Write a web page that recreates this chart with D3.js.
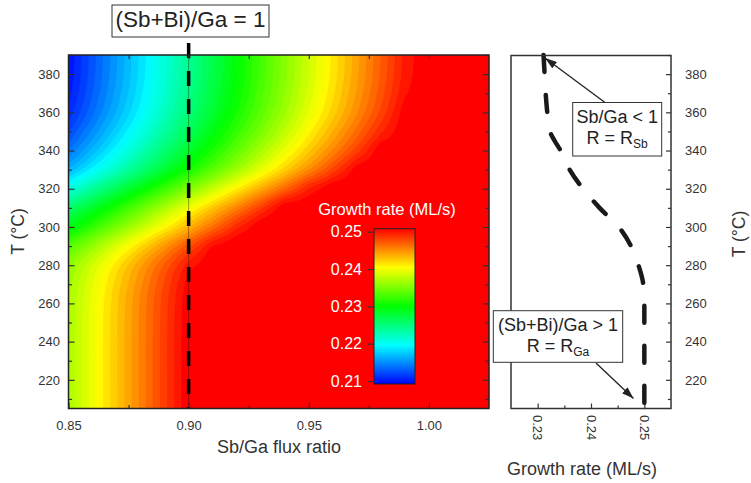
<!DOCTYPE html>
<html><head><meta charset="utf-8">
<script src="https://cdn.jsdelivr.net/npm/d3@7/dist/d3.min.js"></script>
<style>
body{margin:0;background:#fff}
text{font-family:"Liberation Sans",Arial,Helvetica,sans-serif}
</style>
</head><body>
<svg id="c" width="751" height="483"></svg>
<script>
// ---------------- DATA ----------------
// Sb/Ga flux ratio sample columns
const fluxRatios = [0.85,0.86,0.87,0.88,0.89,0.90,0.91,0.92,0.93,0.94,0.95,0.96,0.97,0.98,0.99,1.00,1.01,1.02,1.03];
// Temperature sample rows (°C)
const temperatures = [205,220,240,260,270,280,290,300,310,320,330,340,350,360,370,380,390];
const growthRate = [
 [0.2365,0.2392,0.2419,0.2446,0.2473,0.2500,0.2500,0.2500,0.2500,0.2500,0.2500,0.2500,0.2500,0.2500,0.2500,0.2500,0.2500,0.2500,0.2500],
 [0.2365,0.2392,0.2419,0.2446,0.2473,0.2500,0.2500,0.2500,0.2500,0.2500,0.2500,0.2500,0.2500,0.2500,0.2500,0.2500,0.2500,0.2500,0.2500],
 [0.2365,0.2392,0.2419,0.2446,0.2473,0.2500,0.2500,0.2500,0.2500,0.2500,0.2500,0.2500,0.2500,0.2500,0.2500,0.2500,0.2500,0.2500,0.2500],
 [0.2364,0.2391,0.2418,0.2445,0.2472,0.2499,0.2500,0.2500,0.2500,0.2500,0.2500,0.2500,0.2500,0.2500,0.2500,0.2500,0.2500,0.2500,0.2500],
 [0.2361,0.2388,0.2415,0.2442,0.2469,0.2496,0.2500,0.2500,0.2500,0.2500,0.2500,0.2500,0.2500,0.2500,0.2500,0.2500,0.2500,0.2500,0.2500],
 [0.2353,0.2380,0.2407,0.2434,0.2461,0.2488,0.2500,0.2500,0.2500,0.2500,0.2500,0.2500,0.2500,0.2500,0.2500,0.2500,0.2500,0.2500,0.2500],
 [0.2330,0.2357,0.2384,0.2411,0.2438,0.2465,0.2492,0.2500,0.2500,0.2500,0.2500,0.2500,0.2500,0.2500,0.2500,0.2500,0.2500,0.2500,0.2500],
 [0.2292,0.2319,0.2346,0.2373,0.2400,0.2427,0.2454,0.2481,0.2500,0.2500,0.2500,0.2500,0.2500,0.2500,0.2500,0.2500,0.2500,0.2500,0.2500],
 [0.2257,0.2284,0.2311,0.2338,0.2365,0.2392,0.2419,0.2446,0.2473,0.2500,0.2500,0.2500,0.2500,0.2500,0.2500,0.2500,0.2500,0.2500,0.2500],
 [0.2214,0.2241,0.2268,0.2295,0.2322,0.2349,0.2376,0.2403,0.2430,0.2457,0.2484,0.2500,0.2500,0.2500,0.2500,0.2500,0.2500,0.2500,0.2500],
 [0.2173,0.2200,0.2227,0.2254,0.2281,0.2308,0.2335,0.2362,0.2389,0.2416,0.2443,0.2470,0.2497,0.2500,0.2500,0.2500,0.2500,0.2500,0.2500],
 [0.2148,0.2175,0.2202,0.2229,0.2256,0.2283,0.2310,0.2337,0.2364,0.2391,0.2418,0.2445,0.2472,0.2499,0.2500,0.2500,0.2500,0.2500,0.2500],
 [0.2131,0.2158,0.2185,0.2212,0.2239,0.2266,0.2293,0.2320,0.2347,0.2374,0.2401,0.2428,0.2455,0.2482,0.2500,0.2500,0.2500,0.2500,0.2500],
 [0.2119,0.2146,0.2173,0.2200,0.2227,0.2254,0.2281,0.2308,0.2335,0.2362,0.2389,0.2416,0.2443,0.2470,0.2497,0.2500,0.2500,0.2500,0.2500],
 [0.2113,0.2140,0.2167,0.2194,0.2221,0.2248,0.2275,0.2302,0.2329,0.2356,0.2383,0.2410,0.2437,0.2464,0.2491,0.2500,0.2500,0.2500,0.2500],
 [0.2110,0.2137,0.2164,0.2191,0.2218,0.2245,0.2272,0.2299,0.2326,0.2353,0.2380,0.2407,0.2434,0.2461,0.2488,0.2500,0.2500,0.2500,0.2500],
 [0.2109,0.2136,0.2163,0.2190,0.2217,0.2244,0.2271,0.2298,0.2325,0.2352,0.2379,0.2406,0.2433,0.2460,0.2487,0.2500,0.2500,0.2500,0.2500]
];
// Right panel: growth rate along (Sb+Bi)/Ga = 1 vs temperature
const profileT = [390,380,370,360,350,345,340,330,320,310,300,290,280,270,260,240,220,205];
const profileR = [0.2311,0.2313,0.2315,0.2318,0.2323,0.2332,0.2343,0.2360,0.2385,0.2416,0.2452,0.2475,0.2489,0.2498,0.2500,0.2500,0.2500,0.2500];
// Ticks
const xTicks = [0.85,0.90,0.95,1.00];
const xMinor = [0.875,0.925,0.975];
const tTicks = [220,240,260,280,300,320,340,360,380];
const tMinor = [210,230,250,270,290,310,330,350,370,390];
const rTicks = [0.23,0.24,0.25];
const rMinor = [0.235,0.245];
const cbTicks = [0.21,0.22,0.23,0.24,0.25];
const stoichRatio = 0.90;

// ---------------- SCALES ----------------
const svg = d3.select("#c");
const x = d3.scaleLinear().domain([0.85,1.025]).range([68.5,489]);
const y = d3.scaleLinear().domain([205,390]).range([408.5,55]);
const rx = d3.scaleLinear().domain([0.225,0.255]).range([511,671]);
const jet = d3.scaleLinear().domain([0,0.25,0.5,0.75,1])
  .range(["#0000ff","#00ffff","#00ff00","#ffff00","#ff0000"]);
const nLevels = 50, zMin = 0.21, zMax = 0.25;
const step = (zMax - zMin)/nLevels;
const levels = d3.range(nLevels).map(k => zMin + k*step);

const defs = svg.append("defs");
defs.append("clipPath").attr("id","plotclip").append("rect")
  .attr("x",x.range()[0]).attr("y",y.range()[1])
  .attr("width",x.range()[1]-x.range()[0]).attr("height",y.range()[0]-y.range()[1]);

// field sampler: linear in flux ratio, Catmull-Rom (smooth) in temperature
function rowAt(ri, r){
  const nc = fluxRatios.length;
  const ci = Math.max(0, Math.min(nc-2, d3.bisectRight(fluxRatios, r)-1));
  const tx = Math.max(0, Math.min(1, (r - fluxRatios[ci])/(fluxRatios[ci+1]-fluxRatios[ci])));
  return growthRate[ri][ci]*(1-tx) + growthRate[ri][ci+1]*tx;
}
function field(r,T){
  const nr = temperatures.length;
  const ri = Math.max(0, Math.min(nr-2, d3.bisectRight(temperatures, T)-1));
  const t0 = temperatures[ri], t1 = temperatures[ri+1];
  const s = Math.max(0, Math.min(1, (T - t0)/(t1 - t0)));
  const p1 = rowAt(ri, r), p2 = rowAt(ri+1, r);
  const h = t1 - t0;
  const m1 = ri > 0 ? (p2 - rowAt(ri-1, r))/(t1 - temperatures[ri-1])*h : (p2 - p1);
  const m2 = ri+2 < nr ? (rowAt(ri+2, r) - p1)/(temperatures[ri+2] - t0)*h : (p2 - p1);
  const s2 = s*s, s3 = s2*s;
  const v = (2*s3-3*s2+1)*p1 + (s3-2*s2+s)*m1 + (-2*s3+3*s2)*p2 + (s3-s2)*m2;
  return Math.min(0.25, v);
}

const nx = 210, ny = 177;
const x0 = x.range()[0], y0 = y.range()[1];
const cw = (x.range()[1]-x0)/nx, ch = (y.range()[0]-y0)/ny;
const vals = new Array(nx*ny);
for (let j=0;j<ny;j++) for (let i=0;i<nx;i++){
  vals[j*nx+i] = field(x.invert(x0+(i+0.5)*cw), y.invert(y0+(j+0.5)*ch));
}
const contours = d3.contours().size([nx,ny]).thresholds(levels)(vals);
const proj = d3.geoTransform({point:function(px,py){ this.stream.point(x0+px*cw, y0+py*ch); }});
const gpath = d3.geoPath(proj);

svg.append("g").attr("clip-path","url(#plotclip)")
  .selectAll("path").data(contours).join("path")
  .attr("d", gpath)
  .attr("fill", (d,i) => jet(i/(nLevels-1)))
  .attr("stroke", (d,i) => jet(i/(nLevels-1)))
  .attr("stroke-width", 0.3);

// ---------------- COLORBAR ----------------
const cb = d3.scaleLinear().domain([0.21,0.25]).range([381,231.7]);
const grad = defs.append("linearGradient").attr("id","cbgrad")
  .attr("x1",0).attr("y1",1).attr("x2",0).attr("y2",0);
d3.range(0,1.0001,0.05).forEach(t => grad.append("stop").attr("offset",t).attr("stop-color",jet(t)));
svg.append("rect").attr("x",374).attr("y",cb(0.2508)).attr("width",41)
  .attr("height",cb(0.2092)-cb(0.2508))
  .attr("fill","url(#cbgrad)").attr("stroke","#222").attr("stroke-width",1);
const cbAxis = svg.append("g").attr("transform","translate(374,0)")
  .call(d3.axisLeft(cb).tickValues(cbTicks).tickSize(6).tickPadding(6).tickFormat(d3.format(".2f")));
cbAxis.select(".domain").remove();
cbAxis.selectAll("line").attr("stroke","#333").attr("stroke-width",1.2);
cbAxis.selectAll("text").attr("fill","#fff").attr("font-size",16).style("font-family","'Liberation Sans',Arial,sans-serif");
svg.append("text").attr("x",387).attr("y",215).attr("text-anchor","middle")
  .attr("fill","#fff").attr("font-size",16.5).text("Growth rate (ML/s)");

// ---------------- DASHED LINE ----------------
svg.append("line").attr("x1",x(stoichRatio)).attr("x2",x(stoichRatio))
  .attr("y1",y.range()[1]).attr("y2",y.range()[0])
  .attr("stroke","#000").attr("stroke-opacity",0.35).attr("stroke-width",1);
svg.append("line").attr("x1",x(stoichRatio)).attr("x2",x(stoichRatio))
  .attr("y1",43).attr("y2",y.range()[0])
  .attr("stroke","#000").attr("stroke-width",3.5).attr("stroke-dasharray","15,13");

// ---------------- MAIN AXES ----------------
const tickCol = "#333";
function styleAxis(g, fs){
  g.select(".domain").remove();
  g.selectAll("line").attr("stroke",tickCol).attr("stroke-width",1.2);
  g.selectAll("text").attr("fill","#333").attr("font-size",fs||13).style("font-family","'Liberation Sans',Arial,sans-serif");
}
const yB = y.range()[0], yT = y.range()[1], xL = x.range()[0], xR = x.range()[1];
styleAxis(svg.append("g").attr("transform",`translate(0,${yB})`)
  .call(d3.axisBottom(x).tickValues(xTicks).tickSize(-6).tickPadding(12.3).tickFormat(d3.format(".2f"))));
styleAxis(svg.append("g").attr("transform",`translate(0,${yB})`)
  .call(d3.axisBottom(x).tickValues(xMinor).tickSize(-3.5).tickFormat("")));
styleAxis(svg.append("g").attr("transform",`translate(0,${yT})`)
  .call(d3.axisTop(x).tickValues(xTicks.concat(xMinor)).tickSize(-4).tickFormat("")));
styleAxis(svg.append("g").attr("transform",`translate(${xL},0)`)
  .call(d3.axisLeft(y).tickValues(tTicks).tickSize(-6).tickPadding(8.5)));
styleAxis(svg.append("g").attr("transform",`translate(${xL},0)`)
  .call(d3.axisLeft(y).tickValues(tMinor).tickSize(-3.5).tickFormat("")));
styleAxis(svg.append("g").attr("transform",`translate(${xR},0)`)
  .call(d3.axisRight(y).tickValues(tTicks).tickSize(-6).tickFormat("")));
styleAxis(svg.append("g").attr("transform",`translate(${xR},0)`)
  .call(d3.axisRight(y).tickValues(tMinor).tickSize(-3.5).tickFormat("")));
svg.append("rect").attr("x",xL).attr("y",yT).attr("width",xR-xL).attr("height",yB-yT)
  .attr("fill","none").attr("stroke","#222").attr("stroke-width",1.5);

svg.append("text").attr("x",279).attr("y",452.5).attr("text-anchor","middle")
  .attr("font-size",18).attr("fill","#333").text("Sb/Ga flux ratio");
svg.append("text").attr("transform","translate(24,231.5) rotate(-90)").attr("text-anchor","middle")
  .attr("font-size",17.5).attr("fill","#333").text("T (°C)");

// ---------------- TITLE BOX ----------------
svg.append("rect").attr("x",112).attr("y",5).attr("width",157).attr("height",32)
  .attr("fill","#fff").attr("stroke","#333").attr("stroke-width",1);
svg.append("text").attr("x",190.5).attr("y",27).attr("text-anchor","middle")
  .attr("font-size",22.5).attr("fill","#222").text("(Sb+Bi)/Ga = 1");

// ---------------- RIGHT PANEL ----------------
const rL = rx.range()[0], rR = rx.range()[1];
styleAxis(svg.append("g").attr("transform",`translate(${rR},0)`)
  .call(d3.axisRight(y).tickValues(tTicks).tickSize(-5).tickPadding(14)));
styleAxis(svg.append("g").attr("transform",`translate(${rR},0)`)
  .call(d3.axisRight(y).tickValues(tMinor).tickSize(-3).tickFormat("")));
styleAxis(svg.append("g").attr("transform",`translate(0,${yB})`)
  .call(d3.axisBottom(rx).tickValues(rTicks).tickSize(-5).tickFormat("")));
styleAxis(svg.append("g").attr("transform",`translate(0,${yB})`)
  .call(d3.axisBottom(rx).tickValues(rMinor).tickSize(-3).tickFormat("")));
svg.append("g").selectAll("text").data(rTicks).join("text")
  .attr("transform", d => `translate(${rx(d)},415) rotate(90)`)
  .attr("text-anchor","start").attr("dominant-baseline","central")
  .attr("font-size",13).attr("fill","#333").text(d3.format(".2f"));

const profile = profileT.map((t,i) => ({t, r: profileR[i]}));
svg.append("path").datum(profile)
  .attr("d", d3.line().x(d => rx(d.r)).y(d => y(d.t)).curve(d3.curveMonotoneY))
  .attr("fill","none").attr("stroke","#1a1a1a").attr("stroke-width",4.5)
  .attr("stroke-linecap","round").attr("stroke-dasharray","17,23");

svg.append("rect").attr("x",rL).attr("y",yT+0.5).attr("width",rR-rL).attr("height",yB-yT-0.5)
  .attr("fill","none").attr("stroke","#333").attr("stroke-width",1.5);

svg.append("text").attr("x",582).attr("y",475).attr("text-anchor","middle")
  .attr("font-size",18).attr("fill","#333").text("Growth rate (ML/s)");
svg.append("text").attr("transform","translate(745,234) rotate(-90)").attr("text-anchor","middle")
  .attr("font-size",17.5).attr("fill","#333").text("T (°C)");

// arrows
defs.append("marker").attr("id","arr").attr("markerUnits","userSpaceOnUse")
  .attr("viewBox","0 0 12 8").attr("refX",12).attr("refY",4)
  .attr("markerWidth",12).attr("markerHeight",8).attr("orient","auto")
  .append("path").attr("d","M0,0 L12,4 L0,8 Z").attr("fill","#222");
svg.append("line").attr("x1",605).attr("y1",102.5).attr("x2",545).attr("y2",58)
  .attr("stroke","#222").attr("stroke-width",1.3).attr("marker-end","url(#arr)");
svg.append("line").attr("x1",596).attr("y1",363).attr("x2",633.5).attr("y2",398.5)
  .attr("stroke","#222").attr("stroke-width",1.3).attr("marker-end","url(#arr)");

// annotation boxes
function annot(bx,by,bw,bh,line1,sub,fs){
  svg.append("rect").attr("x",bx).attr("y",by).attr("width",bw).attr("height",bh)
    .attr("fill","#fff").attr("stroke","#333").attr("stroke-width",1);
  const cx = bx + bw/2;
  svg.append("text").attr("x",cx).attr("y",by+20).attr("text-anchor","middle")
    .attr("font-size",fs).attr("fill","#222").text(line1);
  const t2 = svg.append("text").attr("x",cx).attr("y",by+41).attr("text-anchor","middle")
    .attr("font-size",fs).attr("fill","#222");
  t2.append("tspan").text("R = R");
  t2.append("tspan").attr("font-size",12).attr("dy",4).text(sub);
}
annot(572.7,102.5,89,53.5,"Sb/Ga < 1","Sb",18);
annot(493.3,310.7,129.4,51.6,"(Sb+Bi)/Ga > 1","Ga",18);
</script>
</body></html>
